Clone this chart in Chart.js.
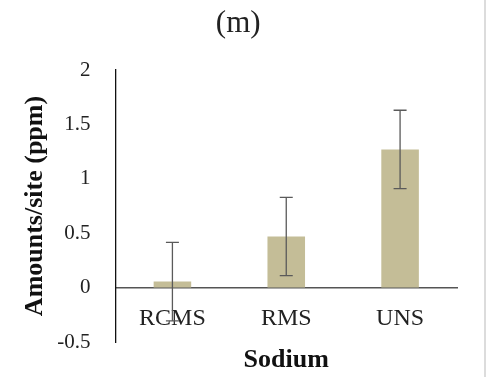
<!DOCTYPE html>
<html>
<head>
<meta charset="utf-8">
<script src="https://cdn.jsdelivr.net/npm/chart.js@4.4.0/dist/chart.umd.min.js"></script>
<style>
  html, body { margin: 0; padding: 0; background: #fff; }
  #wrap { position: relative; width: 487px; height: 377px; }
  #edge { position: absolute; left: 484px; top: 0; width: 2px; height: 377px; background: #dcdcdc; }
</style>
</head>
<body>
<div id="wrap">
  <canvas id="c" width="487" height="377"></canvas>
  <div id="edge"></div>
</div>
<script>
const categories = ['RCMS', 'RMS', 'UNS'];
const means = [0.055, 0.47, 1.27];
const errors = [0.36, 0.36, 0.36];
const yTicks = [-0.5, 0, 0.5, 1, 1.5, 2];

const serif = "'Liberation Serif', 'Times New Roman', serif";

const errorBarPlugin = {
  id: 'errorBars',
  afterDraw(chart) {
    const ctx = chart.ctx;
    const xs = chart.scales.x, ys = chart.scales.y;
    ctx.save();
    ctx.strokeStyle = '#5a5a5a';
    ctx.lineWidth = 1.3;
    means.forEach((m, i) => {
      const x = xs.getPixelForValue(i);
      const yt = ys.getPixelForValue(m + errors[i]);
      const yb = ys.getPixelForValue(m - errors[i]);
      const cap = 6.5;
      ctx.beginPath();
      ctx.moveTo(x, yt); ctx.lineTo(x, yb);
      ctx.moveTo(x - cap, yt); ctx.lineTo(x + cap, yt);
      ctx.moveTo(x - cap, yb); ctx.lineTo(x + cap, yb);
      ctx.stroke();
    });
    ctx.restore();
  }
};

new Chart(document.getElementById('c'), {
  type: 'bar',
  data: {
    labels: categories,
    datasets: [{
      data: means,
      backgroundColor: '#c4bd97',
      borderWidth: 0,
      barPercentage: 0.33,
      categoryPercentage: 1.0
    }]
  },
  options: {
    responsive: false,
    animation: false,
    layout: { padding: { left: 19.5, right: 30, top: 0, bottom: 0 } },
    plugins: {
      legend: { display: false },
      tooltip: { enabled: false },
      title: {
        display: true,
        text: '(m)',
        color: '#222',
        font: { family: serif, size: 31, weight: 'normal' },
        padding: { top: 5.5, bottom: 27.3 }
      }
    },
    scales: {
      x: {
        type: 'category',
        position: { y: 0 },
        offset: true,
        grid: { display: false, drawTicks: false },
        border: { display: true, color: '#555', width: 1.5 },
        ticks: {
          color: '#222',
          font: { family: serif, size: 24 },
          padding: 17,
          maxRotation: 0
        }
      },
      x2: {
        type: 'category',
        position: 'bottom',
        offset: true,
        grid: { display: false, drawTicks: false },
        border: { display: false },
        ticks: { display: false },
        title: {
          display: true,
          text: 'Sodium',
          color: '#111',
          font: { family: serif, size: 26, weight: 'bold' },
          padding: { top: 3, bottom: 0.8 }
        }
      },
      y: {
        min: -0.5,
        max: 2,
        afterBuildTicks(scale) { scale.ticks = yTicks.map(v => ({ value: v })); },
        afterFit(scale) {
          scale.width = 96;
          scale.paddingTop = 0;
          scale.paddingBottom = 0;
        },
        grid: { display: false, drawTicks: false },
        border: { display: true, color: '#111', width: 1.3 },
        ticks: {
          color: '#222',
          font: { family: serif, size: 21 },
          padding: 25,
          callback: v => String(v)
        },
        title: {
          display: true,
          text: 'Amounts/site (ppm)',
          color: '#111',
          font: { family: serif, size: 26, weight: 'bold' },
          padding: { top: 0, bottom: 0 }
        }
      }
    }
  },
  plugins: [errorBarPlugin]
});
</script>
</body>
</html>
